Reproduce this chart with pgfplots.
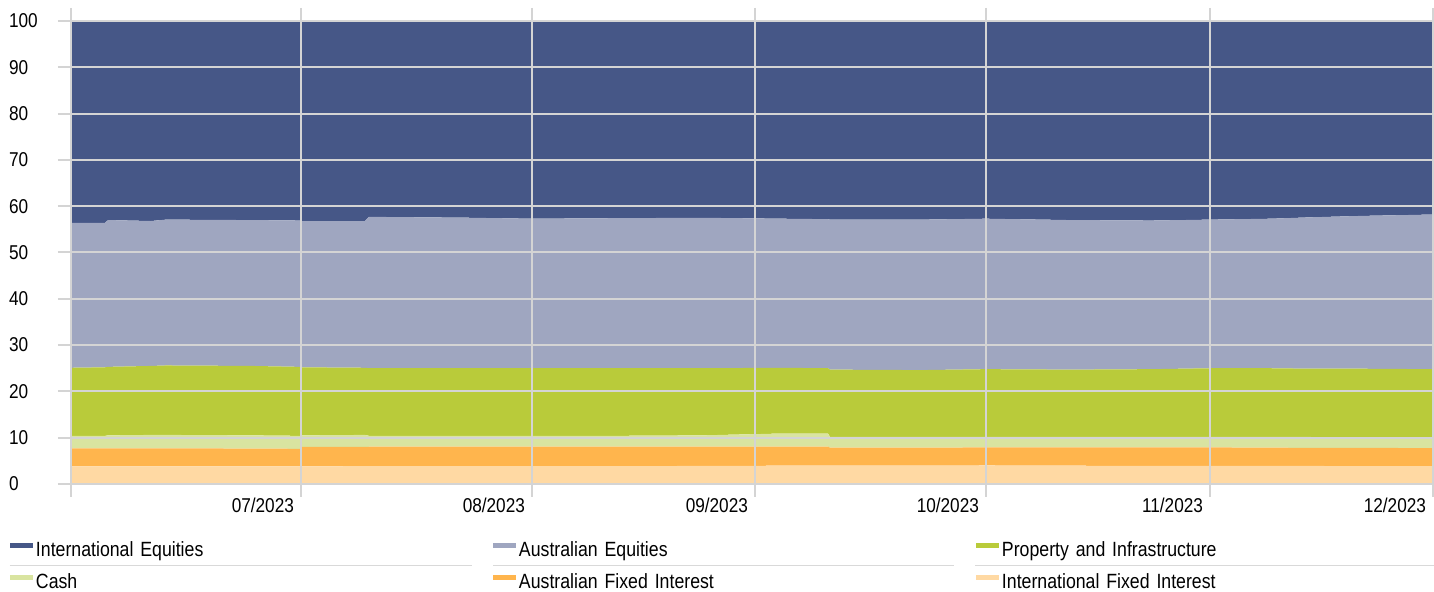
\documentclass[border=0pt]{standalone}
\usepackage{fontspec}
\setmainfont[FakeStretch=0.86]{Liberation Sans}
\usepackage{pgfplots}
\usepackage{pgfplotstable}
\pgfplotsset{compat=1.18}
\definecolor{cIE}{HTML}{465787}
\definecolor{cAE}{HTML}{9FA6C0}
\definecolor{cPI}{HTML}{B9CB3A}
\definecolor{cCA}{HTML}{D9E4A0}
\definecolor{cAF}{HTML}{FFB54D}
\definecolor{cIF}{HTML}{FFD9A3}
\definecolor{gridc}{HTML}{D4D4D4}
\definecolor{sepc}{HTML}{D9D9D9}
% x: position along the axis (0 = start, 1362 = end); layer thicknesses in %
\pgfplotstableread{
x     ifi   afi   cash  prop  aeq   ieq
0     3.8   3.9   2.7   14.7  31.3  43.6
34    3.8   3.9   2.7   14.8  31.2  43.6
37    3.8   3.9   2.8   14.8  31.7  43.0
80    3.8   3.9   2.9   14.9  31.3  43.2
95    3.8   3.9   2.9   15.0  31.5  42.9
180   3.8   3.85  2.85  15.0  31.5  43.0
229   3.8   3.8   2.8   14.9  31.6  43.1
231   3.8   4.2   2.5   14.7  31.6  43.2
294   3.85  4.15  2.6   14.5  31.7  43.2
298   3.85  4.2   2.35  14.6  32.7  42.3
400   3.85  4.2   2.35  14.6  32.5  42.5
460   3.85  4.2   2.35  14.6  32.3  42.7
540   3.85  4.2   2.35  14.6  32.4  42.6
630   3.9   4.15  2.45  14.5  32.5  42.5
710   3.95  4.1   2.85  14.2  32.2  42.7
757   3.95  4.1   2.85  14.1  32.2  42.8
759   3.95  3.9   2.35  14.5  32.4  42.9
850   3.95  3.9   2.35  14.4  32.5  42.9
915   4.0   3.9   2.3   14.6  32.5  42.7
1000  3.95  3.95  2.3   14.5  32.3  43.0
1080  3.9   4.0   2.3   14.6  32.1  43.1
1139  3.9   4.0   2.3   14.8  32.1  42.9
1200  3.9   3.95  2.35  14.8  32.3  42.7
1240  3.9   3.9   2.35  14.75 32.7  42.4
1290  3.85  3.95  2.3   14.8  33.0  42.1
1362  3.85  3.9   2.35  14.7  33.4  41.8
}\datatable
\begin{document}
\begin{tikzpicture}
\path[use as bounding box] (-35.5pt,-54pt) rectangle (681.5pt,242pt);
\begin{axis}[
  at={(0,0)}, anchor=south west,
  scale only axis, width=681pt, height=231.5pt,
  xmin=0, xmax=1362, ymin=0, ymax=100,
  stack plots=y,
  axis on top,
  axis line style={draw=none},
  xtick={0,230,461,684,915,1139,1362},
  xticklabels={,07/2023,08/2023,09/2023,10/2023,11/2023,12/2023},
  ytick={0,10,...,100},
  grid=major,
  major grid style={draw=gridc, line width=1pt},
  tick align=outside,
  major tick length=6.5pt,
  tick style={draw=gridc, line width=1pt},
  font=\fontsize{10pt}{12pt}\selectfont,
  /pgf/number format/assume math mode=true,
  xticklabel style={anchor=north east, xshift=0pt, yshift=3pt},
  yticklabel style={anchor=west, xshift=-28pt},
  legend columns=3,
  reverse legend,
  legend style={at={(-30.5pt,-26pt)}, anchor=north west, draw=none,
    inner sep=0pt, outer sep=0pt, /tikz/column sep=0pt, /tikz/row sep=0pt,
    font=\fontsize{10.3pt}{12pt}\selectfont,
    nodes={inner xsep=1.5pt, inner ysep=3.5pt, text height=7pt, text depth=2pt,
      text width=227pt, align=left}},
  legend image code/.code={\fill (0pt,2.2pt) rectangle (11.5pt,4.7pt);},
]
\addplot[fill=cIF, draw=none] table[x=x, y=ifi] {\datatable} \closedcycle;
\addplot[fill=cAF, draw=none] table[x=x, y=afi] {\datatable} \closedcycle;
\addplot[fill=cCA, draw=none] table[x=x, y=cash] {\datatable} \closedcycle;
\addplot[fill=cPI, draw=none] table[x=x, y=prop] {\datatable} \closedcycle;
\addplot[fill=cAE, draw=none] table[x=x, y=aeq] {\datatable} \closedcycle;
\addplot[fill=cIE, draw=none] table[x=x, y=ieq] {\datatable} \closedcycle;
\legend{International Fixed Interest, Australian Fixed Interest, Cash, Property and Infrastructure, Australian Equities, International Equities}
\end{axis}
\draw[sepc, line width=0.75pt] (-30.5pt,-40.75pt) -- (200.5pt,-40.75pt);
\draw[sepc, line width=0.75pt] (211pt,-40.75pt) -- (441.5pt,-40.75pt);
\draw[sepc, line width=0.75pt] (452pt,-40.75pt) -- (681.5pt,-40.75pt);
\end{tikzpicture}
\end{document}
